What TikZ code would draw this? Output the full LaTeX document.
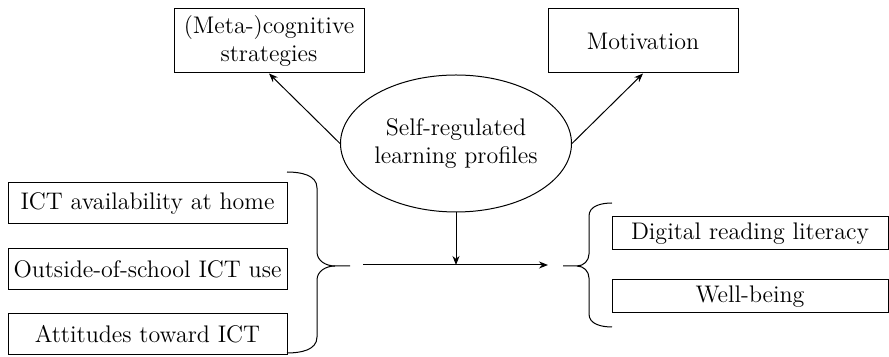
\documentclass[tikz,border=0pt]{standalone}
\usepackage{tikz}
\usetikzlibrary{shapes.geometric, arrows.meta}

\begin{document}
\begin{tikzpicture}[x=0.5pt, y=-0.5pt, line width=0.5pt,
    >={Stealth[length=4.5pt, width=3.5pt]},
    every node/.style={font=\fontsize{12}{14}\selectfont, align=center, inner sep=0pt},
    topbox/.style={draw, minimum width=95pt, minimum height=32pt},
    leftbox/.style={draw, minimum width=139.5pt, minimum height=20.5pt},
    rightbox/.style={draw, minimum width=138pt, minimum height=16.5pt}]
    \useasboundingbox (0,0) rectangle (889,357);

    % profiles and their two indicators
    \node[topbox] (meta) at (269,41) {(Meta-)cognitive\\strategies};
    \node[topbox] (motiv) at (643,41) {Motivation};
    \node[draw, ellipse, minimum width=93pt, minimum height=68.5pt] (srl) at (456,143.5) {Self-regulated\\learning profiles};
    \draw[->] (srl.west) -- (meta.south);
    \draw[->] (srl.east) -- (motiv.south);

    % predictors
    \node[leftbox] (avail) at (147.5,203.5) {ICT availability at home};
    \node[leftbox] (use) at (147.5,269) {Outside-of-school ICT use};
    \node[leftbox] (attit) at (147.5,334.5) {Attitudes toward ICT};

    % outcomes
    \node[rightbox] (read) at (750,233.5) {Digital reading literacy};
    \node[rightbox] (well) at (750,296.5) {Well-being};

    % braces
    \coordinate (ltip) at (350,266);
    \coordinate (rtip) at (563,266);
    \draw (287,172) to[out=0, in=90] (317,188) -- (317,252) to[out=-90, in=180] (335,266) -- (ltip);
    \draw (287,353) to[out=0, in=-90] (317,337) -- (317,280) to[out=90, in=180] (335,266);
    \draw (612,203) to[out=180, in=90] (589,216) -- (589,254) to[out=-90, in=0] (577,266) -- (rtip);
    \draw (612,327) to[out=180, in=-90] (589,314) -- (589,278) to[out=90, in=0] (577,266);

    % main path with moderation
    \coordinate (pathin) at (363,265);
    \coordinate (pathout) at (548,265);
    \draw[->] (pathin) -- (pathout);
    \draw[->] (srl.south) -- (srl.south |- pathin);
\end{tikzpicture}
\end{document}
